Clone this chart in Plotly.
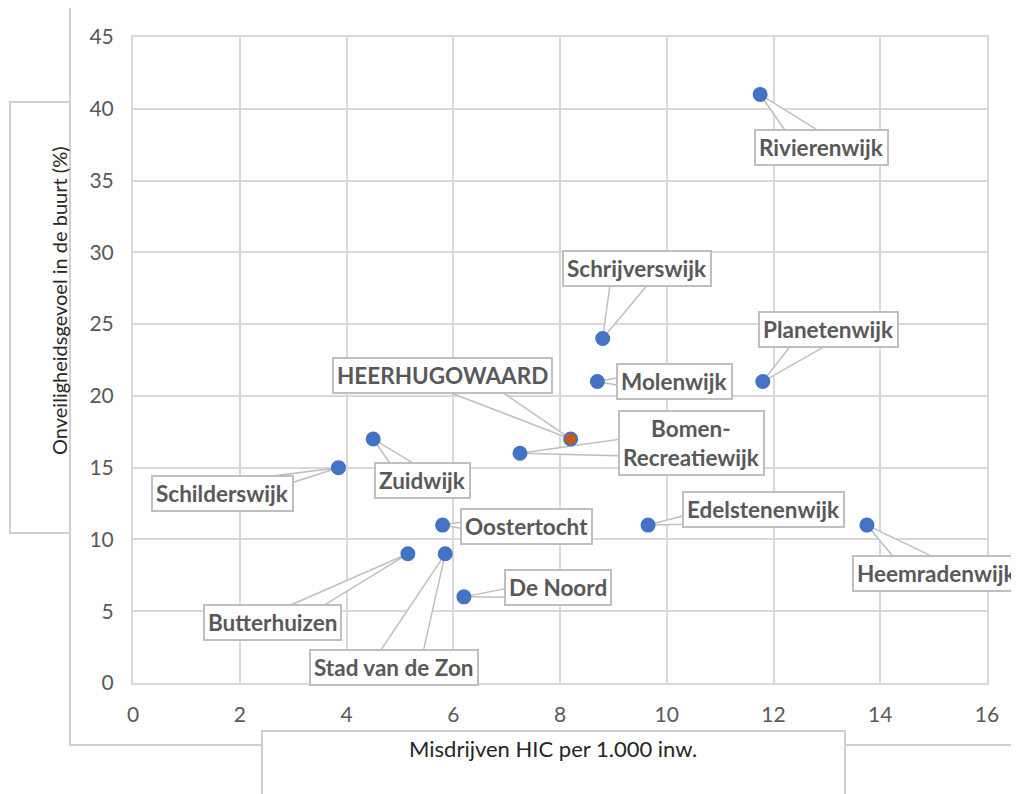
import math
import plotly.graph_objects as go

# ---- data ----
wijken = ["Rivierenwijk", "Schrijverswijk", "Planetenwijk", "Molenwijk", "HEERHUGOWAARD",
          "Bomen-<br>Recreatiewijk", "Zuidwijk", "Schilderswijk", "Oostertocht",
          "Edelstenenwijk", "Heemradenwijk", "Butterhuizen", "Stad van de Zon", "De Noord"]
misdrijven = [11.75, 8.8, 11.8, 8.7, 8.2, 7.25, 4.5, 3.85, 5.8, 9.65, 13.75, 5.15, 5.85, 6.2]
onveilig = [41, 24, 21, 21, 17, 16, 17, 15, 11, 11, 11, 9, 9, 6]
x_ticks = [0, 2, 4, 6, 8, 10, 12, 14, 16]
y_ticks = [0, 5, 10, 15, 20, 25, 30, 35, 40, 45]

# label offsets (pixels, screen: +x right, +y down)
label_dx = [61, 34, 66, 77, -128, 172, 49, -116, 84, 115, 70, -135, -51, 94]
label_dy = [53, -70, -52, 0, -63, -10, 42, 26, 1, -16, 48, 69, 114, -9]

OFF = 8  # page body margin
W, H = 1019 - OFF, 794 - OFF
L = 133 - OFF
T = 37 - OFF
R = W - (987 - OFF)
B = H - (683 - OFF)
PW, PH = W - L - R, H - T - B

def px(x):
    return (x - OFF - L) / PW

def py(y):
    return (H - B - (y - OFF)) / PH

GRID = "#d9d9d9"
TXT = "#595959"
BOX = "#bfbfbf"
FRAME = "#d0d0d0"
FONT = "Lato"
LFS = 22.5

def text_w(s):
    wsum = 0.0
    for c in s:
        if c.isupper():
            wsum += 14.8
        elif c in "ijlrtf":
            wsum += 6.0
        elif c == " ":
            wsum += 5.5
        elif c == "-":
            wsum += 7.5
        else:
            wsum += 11.8
    return wsum

marker_colors = ["#C55A11" if w == "HEERHUGOWAARD" else "#4472C4" for w in wijken]

fig = go.Figure()
fig.add_trace(go.Scatter(
    x=misdrijven, y=onveilig, mode="markers",
    marker=dict(size=13, color=marker_colors, line=dict(color="#4472C4", width=2)),
    hoverinfo="skip", showlegend=False,
))

shapes = []
annotations = []

# outer chart border and axis title boxes
shapes.append(dict(type="rect", xref="paper", yref="paper",
                   x0=px(70), x1=px(1040), y0=py(745), y1=py(5),
                   line=dict(color=FRAME, width=2), fillcolor="rgba(0,0,0,0)", layer="below"))
shapes.append(dict(type="rect", xref="paper", yref="paper",
                   x0=px(10), x1=px(70), y0=py(533), y1=py(102),
                   line=dict(color=FRAME, width=2), fillcolor="white", layer="below"))
shapes.append(dict(type="rect", xref="paper", yref="paper",
                   x0=px(262), x1=px(845), y0=py(820), y1=py(731),
                   line=dict(color=FRAME, width=2), fillcolor="white", layer="below"))

annotations.append(dict(xref="paper", yref="paper", x=px(45), y=py(301),
                        text="Onveiligheidsgevoel in de buurt (%)", showarrow=False,
                        textangle=-90, font=dict(family=FONT, size=20, color="#262626")))
annotations.append(dict(xref="paper", yref="paper", x=px(553), y=py(764),
                        text="Misdrijven HIC per 1.000 inw.", showarrow=False,
                        font=dict(family=FONT, size=22, color="#262626")))

# callout labels with wedge leaders
for name, xv, yv, dx, dy in zip(wijken, misdrijven, onveilig, label_dx, label_dy):
    lines = name.split("<br>")
    hw = max(text_w(s) for s in lines) / 2 + 6
    hh = 16 * len(lines) + 2
    ux, uy = dx, -dy
    sx = hw / abs(ux) if ux else 1e9
    sy = hh / abs(uy) if uy else 1e9
    s = min(sx, sy)
    frac = max(1 - s, 0.08)
    if sy < sx:  # leader leaves through top/bottom edge
        wc = min(0.25 * hw / frac, hw - 4)
        p1, p2 = (ux - wc, uy), (ux + wc, uy)
    else:        # leader leaves through left/right edge
        wc = min(0.25 * hh / frac, hh - 4)
        p1, p2 = (ux, uy - wc), (ux, uy + wc)
    path = f"M 0 0 L {p1[0]:.1f} {p1[1]:.1f} L {p2[0]:.1f} {p2[1]:.1f} Z"
    shapes.append(dict(type="path", xref="x", yref="y", xsizemode="pixel", ysizemode="pixel",
                       xanchor=xv, yanchor=yv, path=path,
                       fillcolor="white", line=dict(color=BOX, width=1.5), layer="between"))
    annotations.append(dict(x=xv, y=yv, xref="x", yref="y", text=f"<b>{name}</b>",
                            showarrow=False, xshift=dx, yshift=-dy,
                            font=dict(family=FONT, size=LFS, color=TXT),
                            bgcolor="white", bordercolor=BOX, borderwidth=2, borderpad=3,
                            align="center"))

fig.update_layout(
    width=W, height=H,
    margin=dict(l=L, r=R, t=T, b=B),
    paper_bgcolor="white", plot_bgcolor="white",
    shapes=shapes, annotations=annotations,
    xaxis=dict(range=[0, 16], tickvals=x_ticks, showgrid=True, gridcolor=GRID, gridwidth=2,
               zeroline=True, zerolinecolor=GRID, zerolinewidth=2,
               showline=True, linecolor=GRID, linewidth=2, mirror=True,
               ticks="", ticklabelstandoff=12,
               tickfont=dict(family=FONT, size=21, color=TXT), fixedrange=True),
    yaxis=dict(range=[0, 45], tickvals=y_ticks, showgrid=True, gridcolor=GRID, gridwidth=2,
               zeroline=True, zerolinecolor=GRID, zerolinewidth=2,
               showline=True, linecolor=GRID, linewidth=2, mirror=True,
               ticks="", ticklabelstandoff=13,
               tickfont=dict(family=FONT, size=21, color=TXT), fixedrange=True),
)

fig.write_html("out.html")
